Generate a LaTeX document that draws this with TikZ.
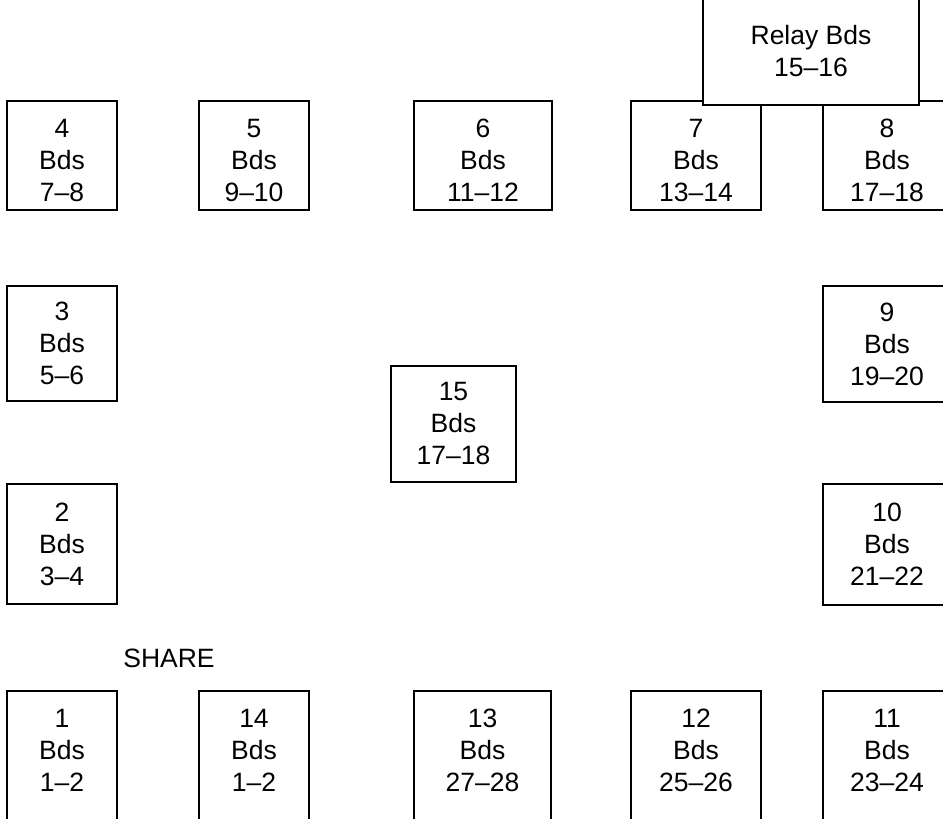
\documentclass[tikz,border=0pt]{standalone}
\usepackage{fontspec}
\setmainfont{Liberation Sans}
\begin{document}
\begin{tikzpicture}[x=1pt,y=-1pt,
  box/.style={draw, line width=1.3pt, fill=white, align=center, inner sep=0pt,
    font=\fontsize{26.5}{32}\selectfont},
  toprow/.style={box, minimum height=109pt, text height=92pt, text depth=0pt},
  botrow/.style={box, minimum height=160pt, text depth=42pt},
  lbl/.style={inner sep=0pt, font=\fontsize{26.5}{32}\selectfont}]
\useasboundingbox (0,0) rectangle (943,819);
\clip (0,0) rectangle (943,819);
% top row
\node[toprow, minimum width=110pt] (b4) at (62,155.5) {4\\Bds\\7--8};
\node[toprow, minimum width=110pt] (b5) at (254,155.5) {5\\Bds\\9--10};
\node[toprow, minimum width=138pt] (b6) at (483,155.5) {6\\Bds\\11--12};
\node[toprow, minimum width=130pt] (b7) at (696,155.5) {7\\Bds\\13--14};
\node[toprow, minimum width=128pt] (b8) at (887,155.5) {8\\Bds\\17--18};
\node[box, minimum width=216pt, minimum height=107pt] (relay) at (811,51.5) {Relay Bds\\15--16};
% middle
\node[box, minimum width=110pt, minimum height=115pt] (b3) at (62,343.5) {3\\Bds\\5--6};
\node[box, minimum width=128pt, minimum height=116pt] (b9) at (887,344) {9\\Bds\\19--20};
\node[box, minimum width=125pt, minimum height=116pt] (b15) at (453.5,424) {15\\Bds\\17--18};
\node[box, minimum width=110pt, minimum height=120pt] (b2) at (62,544) {2\\Bds\\3--4};
\node[box, minimum width=128pt, minimum height=121pt] (b10) at (887,544.5) {10\\Bds\\21--22};
% share label
\node[lbl] (share) at (169,658) {SHARE};
% bottom row
\node[botrow, minimum width=110pt] (b1) at (62,771) {1\\Bds\\1--2};
\node[botrow, minimum width=110pt] (b14) at (254,771) {14\\Bds\\1--2};
\node[botrow, minimum width=137pt] (b13) at (482.5,771) {13\\Bds\\27--28};
\node[botrow, minimum width=130pt] (b12) at (696,771) {12\\Bds\\25--26};
\node[botrow, minimum width=128pt] (b11) at (887,771) {11\\Bds\\23--24};
\end{tikzpicture}
\end{document}
